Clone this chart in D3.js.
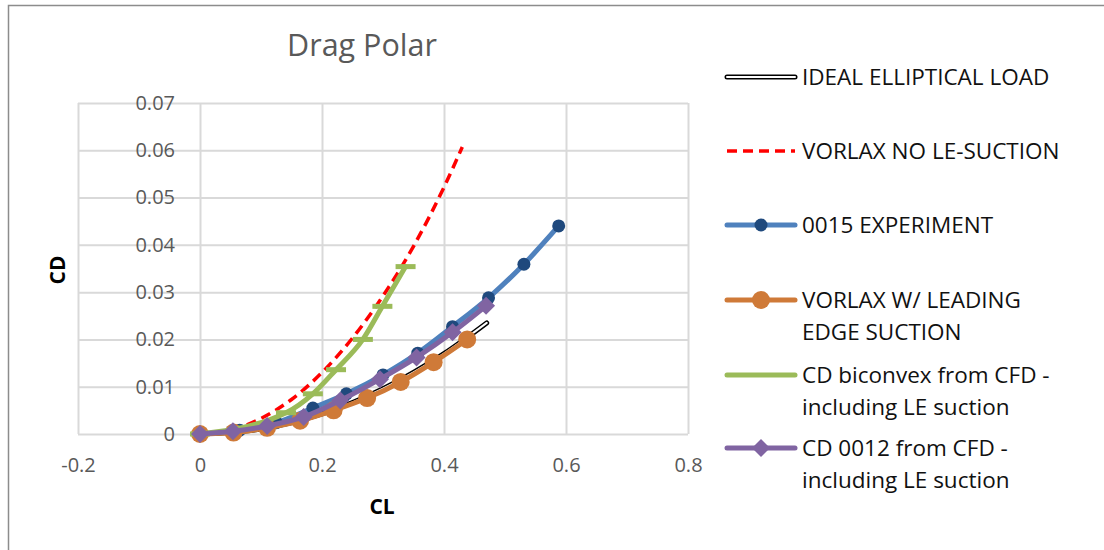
<!DOCTYPE html>
<html>
<head>
<meta charset="utf-8">
<script src="https://cdn.jsdelivr.net/npm/d3@7"></script>
<style>
  body { margin:0; background:#fff; }
  svg { display:block; font-family:"Open Sans", sans-serif; }
</style>
</head>
<body>
<svg id="chart" width="1104" height="550"></svg>
<script>
// data
var xTicks=[-0.2,0,0.2,0.4,0.6,0.8];
var yTicks=[0,0.01,0.02,0.03,0.04,0.05,0.06,0.07];

var idealCL=[0,0.1,0.2,0.3,0.4,0.47];
var idealCD=[0,0.00106,0.00425,0.00957,0.0170,0.0235];

var noSuctionCL=[0,0.05,0.1,0.15,0.2,0.25,0.3,0.35,0.4,0.43];
var noSuctionCD=[0,0.0008,0.0033,0.0073,0.013,0.0203,0.0292,0.0397,0.0522,0.0607];

var expCL=[0,0.065,0.125,0.185,0.24,0.3,0.357,0.414,0.473,0.531,0.588];
var expCD=[0,0.0008,0.0024,0.0055,0.0085,0.0125,0.0171,0.0227,0.0288,0.0359,0.044];

var suctionCL=[0,0.055,0.11,0.164,0.219,0.274,0.329,0.383,0.438];
var suctionCD=[0,0.0003,0.0013,0.0028,0.005,0.0076,0.011,0.0152,0.020];

var biconvexCL=[0,0.141,0.185,0.223,0.267,0.299,0.337];
var biconvexCD=[0,0.0045,0.0085,0.0136,0.020,0.027,0.0354];

var cfd0012CL=[0,0.054,0.11,0.17,0.23,0.295,0.355,0.414,0.469];
var cfd0012CD=[0,0.0006,0.0017,0.0036,0.0071,0.0116,0.0162,0.0215,0.0271];

var series=[
  {name:["IDEAL ELLIPTICAL LOAD"],cl:idealCL,cd:idealCD,type:"double"},
  {name:["VORLAX NO LE-SUCTION"],cl:noSuctionCL,cd:noSuctionCD,type:"dash",color:"#ff0000"},
  {name:["0015 EXPERIMENT"],cl:expCL,cd:expCD,color:"#4f81bd",marker:"circle",mcolor:"#1f497d",r:6.5},
  {name:["VORLAX W/ LEADING","EDGE SUCTION"],cl:suctionCL,cd:suctionCD,color:"#cf7a38",marker:"circle",mcolor:"#cf7a38",r:9},
  {name:["CD biconvex from CFD -","including LE suction"],cl:biconvexCL,cd:biconvexCD,color:"#9bbb59",marker:"bar",mcolor:"#9bbb59"},
  {name:["CD 0012 from CFD -","including LE suction"],cl:cfd0012CL,cd:cfd0012CD,color:"#8064a2",marker:"diamond",mcolor:"#8064a2",r:9}
];

var svg=d3.select("#chart");

// chart frame (top and left edges show)
svg.append("path").attr("d","M8.5,550 V5.5 H1104").attr("fill","none").attr("stroke","#8c8c8c").attr("stroke-width",1.5);

var x=d3.scaleLinear().domain([-0.2,0.8]).range([78,688]);
var y=d3.scaleLinear().domain([0,0.07]).range([434,103]);

// grid
svg.append("g").attr("transform","translate(0,434)")
  .call(d3.axisBottom(x).tickValues(xTicks).tickSize(-331).tickFormat(""))
  .call(g=>g.select(".domain").remove())
  .selectAll("line").attr("stroke","#d9d9d9").attr("stroke-width",2);
svg.append("g").attr("transform","translate(78,0)")
  .call(d3.axisLeft(y).tickValues(yTicks).tickSize(-610).tickFormat(""))
  .call(g=>g.select(".domain").remove())
  .selectAll("line").attr("stroke","#d9d9d9").attr("stroke-width",2);

// tick labels next to the axes through zero
var xl=svg.append("g").attr("transform","translate(0,434)")
  .call(d3.axisBottom(x).tickValues(xTicks).tickSize(0).tickPadding(24).tickFormat(d=>String(+d.toFixed(1))));
var yl=svg.append("g").attr("transform","translate("+x(0)+",0)")
  .call(d3.axisLeft(y).tickValues(yTicks).tickSize(0).tickPadding(25).tickFormat(d=>String(+d.toFixed(2))));
[xl,yl].forEach(function(g){
  g.select(".domain").remove();
  g.selectAll("text").attr("font-family","Open Sans").attr("font-size",20).attr("fill","#595959");
});

// title and axis titles
svg.append("text").attr("x",362).attr("y",56).attr("text-anchor","middle")
  .attr("font-size",30.5).attr("fill","#595959").text("Drag Polar");
svg.append("text").attr("x",382).attr("y",514).attr("text-anchor","middle")
  .attr("font-size",21).attr("font-weight","bold").attr("fill","#000").text("CL");
svg.append("text").attr("transform","translate(65,270) rotate(-90)").attr("text-anchor","middle")
  .attr("font-size",21).attr("font-weight","bold").attr("fill","#000").text("CD");

var line=d3.line().x(d=>x(d[0])).y(d=>y(d[1])).curve(d3.curveMonotoneX);

function drawMarker(g,type,cx,cy,s){
  if(type=="circle"){
    g.append("circle").attr("cx",cx).attr("cy",cy).attr("r",s.r).attr("fill",s.mcolor);
  }else if(type=="diamond"){
    g.append("path").attr("d","M"+cx+","+(cy-s.r)+"L"+(cx+s.r)+","+cy+"L"+cx+","+(cy+s.r)+"L"+(cx-s.r)+","+cy+"Z").attr("fill",s.mcolor);
  }else if(type=="bar"){
    g.append("rect").attr("x",cx-10).attr("y",cy-2.5).attr("width",20).attr("height",5).attr("fill",s.mcolor);
  }
}

function drawLine(g,d,s){
  if(s.type=="double"){
    g.append("path").attr("d",d).attr("fill","none").attr("stroke","#000").attr("stroke-width",5).attr("stroke-linecap","round");
    g.append("path").attr("d",d).attr("fill","none").attr("stroke","#fff").attr("stroke-width",2).attr("stroke-linecap","round");
  }else if(s.type=="dash"){
    g.append("path").attr("d",d).attr("fill","none").attr("stroke",s.color).attr("stroke-width",3.5).attr("stroke-dasharray","10,6");
  }else{
    g.append("path").attr("d",d).attr("fill","none").attr("stroke",s.color).attr("stroke-width",5).attr("stroke-linecap","round");
  }
}

var plot=svg.append("g");
series.forEach(function(s){
  var pts=s.cl.map((c,i)=>[c,s.cd[i]]);
  var g=plot.append("g");
  drawLine(g,line(pts),s);
  if(s.marker) pts.forEach(p=>drawMarker(g,s.marker,x(p[0]),y(p[1]),s));
});

// legend
var legendY=[77,151,225,300,375,448];
var leg=svg.append("g");
series.forEach(function(s,i){
  var g=leg.append("g").attr("transform","translate(0,"+legendY[i]+")");
  drawLine(g,"M727,0H795",s);
  if(s.marker && s.marker!="bar") drawMarker(g,s.marker,761,0,s);
  s.name.forEach(function(t,j){
    g.append("text").attr("x",802).attr("y",8+j*32).attr("font-size",22.5).attr("fill","#111").text(t);
  });
});
</script>
</body>
</html>
